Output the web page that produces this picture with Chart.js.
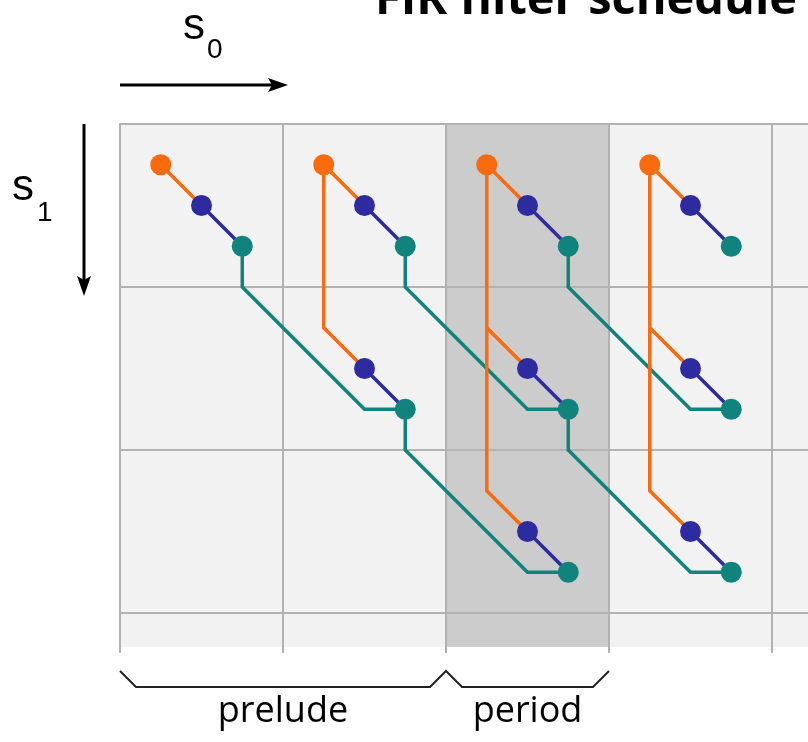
<!DOCTYPE html>
<html>
<head>
<meta charset="utf-8">
<title>FIR filter schedule</title>
<script src="https://cdn.jsdelivr.net/npm/chart.js@4/dist/chart.umd.min.js"></script>
<style>
    body { margin: 0; background: #ffffff; }
    #wrap { width: 808px; height: 742px; }
</style>
</head>
<body>
<div id="wrap"><canvas id="firChart" width="808" height="742"></canvas></div>
<script>
// Grid cells (s0 columns, s1 rows)
const gridCols = [0, 1, 2, 3, 4];
const gridRows = [0, 1, 2, 3];
const preludeRange = [0, 2];
const periodRange = [2, 3];

// Points of the three filter stages
const orangeX = [0.25, 1.25, 2.25, 3.25];
const orangeY = [0.25, 0.25, 0.25, 0.25];
const blueX = [0.5, 1.5, 2.5, 3.5, 1.5, 2.5, 3.5, 2.5, 3.5];
const blueY = [0.5, 0.5, 0.5, 0.5, 1.5, 1.5, 1.5, 2.5, 2.5];
const tealX = [0.75, 1.75, 2.75, 3.75, 1.75, 2.75, 3.75, 2.75, 3.75];
const tealY = [0.75, 0.75, 0.75, 0.75, 1.75, 1.75, 1.75, 2.75, 2.75];

// Dependency lines
const orangePaths = [
    [[0.25, 0.25], [0.5, 0.5]],
    [[1.25, 0.25], [1.5, 0.5]],
    [[2.25, 0.25], [2.5, 0.5]],
    [[3.25, 0.25], [3.5, 0.5]],
    [[1.25, 0.25], [1.25, 1.25], [1.5, 1.5]],
    [[2.25, 0.25], [2.25, 2.25], [2.5, 2.5]],
    [[2.25, 1.25], [2.5, 1.5]],
    [[3.25, 0.25], [3.25, 2.25], [3.5, 2.5]],
    [[3.25, 1.25], [3.5, 1.5]],
];
const bluePaths = [
    [[0.5, 0.5], [0.75, 0.75]],
    [[1.5, 0.5], [1.75, 0.75]],
    [[2.5, 0.5], [2.75, 0.75]],
    [[3.5, 0.5], [3.75, 0.75]],
    [[1.5, 1.5], [1.75, 1.75]],
    [[2.5, 1.5], [2.75, 1.75]],
    [[3.5, 1.5], [3.75, 1.75]],
    [[2.5, 2.5], [2.75, 2.75]],
    [[3.5, 2.5], [3.75, 2.75]],
];
const tealPaths = [
    [[0.75, 0.75], [0.75, 1], [1.5, 1.75], [1.75, 1.75]],
    [[1.75, 0.75], [1.75, 1], [2.5, 1.75], [2.75, 1.75]],
    [[2.75, 0.75], [2.75, 1], [3.5, 1.75], [3.75, 1.75]],
    [[1.75, 1.75], [1.75, 2], [2.5, 2.75], [2.75, 2.75]],
    [[2.75, 1.75], [2.75, 2], [3.5, 2.75], [3.75, 2.75]],
];

const ORANGE = "#fb6a0c";
const BLUE = "#2e2a9f";
const TEAL = "#10847c";

function toXY(xs, ys) {
    return xs.map((x, i) => ({ x: x, y: ys[i] }));
}

function lineSets(paths, color, order) {
    return paths.map((p) => ({
        data: p.map((pt) => ({ x: pt[0], y: pt[1] })),
        showLine: true,
        borderColor: color,
        borderWidth: 3.5,
        pointRadius: 0,
        fill: false,
        order: order,
    }));
}

function pointSet(xs, ys, color) {
    return {
        data: toXY(xs, ys),
        showLine: false,
        backgroundColor: color,
        borderWidth: 0,
        pointRadius: 10.5,
        order: 0,
    };
}

// Background, grid, arrows, braces and labels
const decorPlugin = {
    id: "decor",
    beforeDatasetsDraw(chart) {
        const ctx = chart.ctx;
        const xs = chart.scales.x;
        const ys = chart.scales.y;
        const area = chart.chartArea;
        ctx.save();

        // cell background
        ctx.fillStyle = "#f2f2f2";
        ctx.fillRect(area.left, area.top, area.right - area.left, area.bottom - area.top);

        // period column
        ctx.fillStyle = "#cccccc";
        const p0 = xs.getPixelForValue(periodRange[0]);
        const p1 = xs.getPixelForValue(periodRange[1]);
        ctx.fillRect(p0, area.top, p1 - p0, area.bottom - area.top);

        // grid lines
        ctx.strokeStyle = "#b2b2b2";
        ctx.lineWidth = 2;
        gridCols.forEach((c) => {
            const px = xs.getPixelForValue(c);
            ctx.beginPath();
            ctx.moveTo(px, area.top);
            ctx.lineTo(px, area.bottom + 6);
            ctx.stroke();
        });
        gridRows.forEach((r) => {
            const py = ys.getPixelForValue(r);
            ctx.beginPath();
            ctx.moveTo(area.left - 1, py);
            ctx.lineTo(area.right, py);
            ctx.stroke();
        });

        // s0 arrow
        ctx.strokeStyle = "#000";
        ctx.fillStyle = "#000";
        ctx.lineWidth = 3;
        const ay = 85;
        const ax0 = xs.getPixelForValue(0);
        const ax1 = 288;
        ctx.beginPath();
        ctx.moveTo(ax0, ay);
        ctx.lineTo(ax1 - 14, ay);
        ctx.stroke();
        ctx.beginPath();
        ctx.moveTo(ax1, ay);
        ctx.lineTo(ax1 - 20, ay - 7);
        ctx.lineTo(ax1 - 16, ay);
        ctx.lineTo(ax1 - 20, ay + 7);
        ctx.closePath();
        ctx.fill();

        // s1 arrow
        const bx = 84;
        const by0 = ys.getPixelForValue(0);
        const by1 = 296;
        ctx.beginPath();
        ctx.moveTo(bx, by0);
        ctx.lineTo(bx, by1 - 14);
        ctx.stroke();
        ctx.beginPath();
        ctx.moveTo(bx, by1);
        ctx.lineTo(bx - 7, by1 - 20);
        ctx.lineTo(bx, by1 - 16);
        ctx.lineTo(bx + 7, by1 - 20);
        ctx.closePath();
        ctx.fill();

        // axis labels
        ctx.textAlign = "left";
        ctx.textBaseline = "alphabetic";
        ctx.font = "44px 'Liberation Sans', Arial, sans-serif";
        ctx.fillText("s", 183, 39);
        ctx.fillText("s", 12, 200);
        ctx.font = "28px 'Liberation Sans', Arial, sans-serif";
        ctx.fillText("0", 207, 58);
        ctx.fillText("1", 37, 221);

        // braces under the grid
        const q0 = xs.getPixelForValue(preludeRange[0]);
        const q1 = xs.getPixelForValue(preludeRange[1]);
        const q2 = xs.getPixelForValue(periodRange[1]);
        const top = 671, low = 687, d = 16;
        ctx.strokeStyle = "#222";
        ctx.lineWidth = 2;
        ctx.beginPath();
        ctx.moveTo(q0, top);
        ctx.lineTo(q0 + d, low);
        ctx.lineTo(q1 - d, low);
        ctx.lineTo(q1, top);
        ctx.lineTo(q1 + d, low);
        ctx.lineTo(q2 - d, low);
        ctx.lineTo(q2, top);
        ctx.stroke();

        ctx.fillStyle = "#000";
        ctx.textAlign = "center";
        ctx.font = "36px 'Open Sans', sans-serif";
        ctx.fillText("prelude", (q0 + q1) / 2, 722);
        ctx.fillText("period", (q1 + q2) / 2, 722);

        // title (cut at the top edge)
        ctx.textAlign = "left";
        ctx.font = "bold 47px 'Open Sans', sans-serif";
        ctx.fillText("FIR filter schedule", 375, 14);

        ctx.restore();
    },
};

const datasets = [
    pointSet(orangeX, orangeY, ORANGE),
    pointSet(blueX, blueY, BLUE),
    pointSet(tealX, tealY, TEAL),
    ...lineSets(orangePaths, ORANGE, 1),
    ...lineSets(bluePaths, BLUE, 2),
    ...lineSets(tealPaths, TEAL, 3),
];

const unit = 163;
const ctx = document.getElementById("firChart").getContext("2d");
new Chart(ctx, {
    type: "scatter",
    data: { datasets: datasets },
    options: {
        responsive: false,
        animation: false,
        events: [],
        layout: { autoPadding: false, padding: { left: 120, top: 124, right: 0, bottom: 95 } },
        scales: {
            x: { type: "linear", min: 0, max: (808 - 120) / unit, display: false },
            y: { type: "linear", min: 0, max: (742 - 95 - 124) / unit, reverse: true, display: false },
        },
        plugins: {
            legend: { display: false },
            tooltip: { enabled: false },
            title: { display: false },
        },
    },
    plugins: [decorPlugin],
});
</script>
</body>
</html>
